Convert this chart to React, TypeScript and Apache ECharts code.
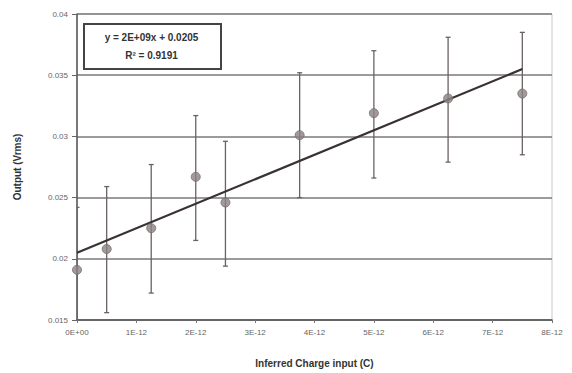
import React, { useEffect, useRef } from "react";
import * as echarts from "echarts";

const chargeInput = [0, 0.5e-12, 1.25e-12, 2e-12, 2.5e-12, 3.75e-12, 5e-12, 6.25e-12, 7.5e-12];
const outputVrms = [0.0191, 0.0208, 0.0225, 0.0267, 0.0246, 0.0301, 0.0319, 0.0331, 0.0335];
const errLow = [0.0140, 0.0156, 0.0172, 0.0215, 0.0194, 0.0250, 0.0266, 0.0279, 0.0285];
const errHigh = [0.0242, 0.0259, 0.0277, 0.0317, 0.0296, 0.0352, 0.0370, 0.0381, 0.0385];
const trendSlope = 2e9;
const trendIntercept = 0.0205;
const trendX = [0, 7.5e-12];
const eqText = "y = 2E+09x + 0.0205";
const r2Text = "R² = 0.9191";

export default function App() {
  const ref = useRef<HTMLDivElement>(null);
  useEffect(() => {
    if (!ref.current) return;
    const chart = echarts.init(ref.current, undefined, { renderer: "svg" });
    const font = "Liberation Sans, Arial, sans-serif";
    const pts = chargeInput.map((x, i) => [x, outputVrms[i]]);
    const bars = chargeInput.map((x, i) => [x, errLow[i], errHigh[i]]);
    const trend = trendX.map((x) => [x, trendSlope * x + trendIntercept]);
    chart.setOption({
      animation: false,
      backgroundColor: "#fff",
      grid: { left: 77, right: 20, top: 14, bottom: 52, show: true, borderColor: "#c8c8c8", borderWidth: 1 },
      xAxis: {
        type: "value",
        min: 0,
        max: 8e-12,
        interval: 1e-12,
        name: "Inferred Charge input (C)",
        nameLocation: "middle",
        nameGap: 38,
        nameTextStyle: { fontFamily: font, fontSize: 10, fontWeight: "bold", color: "#333" },
        axisLine: { lineStyle: { color: "#555", width: 1.5 } },
        axisTick: { inside: false, length: 3, lineStyle: { color: "#777" } },
        axisLabel: {
          fontFamily: font, fontSize: 8, color: "#666", margin: 8,
          formatter: (v: number) => {
            const n = Math.round(v / 1e-12);
            return n === 0 ? "0E+00" : n + "E-12";
          },
        },
        splitLine: { show: false },
      },
      yAxis: {
        type: "value",
        min: 0.015,
        max: 0.04,
        interval: 0.005,
        name: "Output (Vrms)",
        nameLocation: "middle",
        nameGap: 55,
        nameTextStyle: { fontFamily: font, fontSize: 10, fontWeight: "bold", color: "#333" },
        axisLine: { show: true, lineStyle: { color: "#555", width: 1.5 } },
        axisTick: { show: true, length: 5, lineStyle: { color: "#666" } },
        axisLabel: {
          fontFamily: font, fontSize: 8, color: "#666", margin: 9,
          formatter: (v: number) => String(parseFloat(v.toFixed(3))),
        },
        splitLine: { show: true, lineStyle: { color: "#7a7a7a", width: 1.5 } },
      },
      graphic: [
        {
          type: "rect",
          left: 83,
          top: 23,
          shape: { width: 137, height: 45 },
          style: { fill: "#fff", stroke: "#444", lineWidth: 2 },
          z: 100,
        },
        {
          type: "text",
          x: 151.5,
          y: 37,
          style: { text: eqText, fontFamily: font, fontSize: 10, fontWeight: "bold", fill: "#333", textAlign: "center", textVerticalAlign: "middle" },
          z: 101,
        },
        {
          type: "text",
          x: 151.5,
          y: 55,
          style: { text: r2Text, fontFamily: font, fontSize: 10, fontWeight: "bold", fill: "#333", textAlign: "center", textVerticalAlign: "middle" },
          z: 101,
        },
      ],
      series: [
        {
          type: "custom",
          clip: true,
          data: bars,
          renderItem: (params: any, api: any) => {
            const x = api.value(0);
            const lo = api.coord([x, api.value(1)]);
            const hi = api.coord([x, api.value(2)]);
            const c = 2.5;
            const st = { stroke: "#6a6262", lineWidth: 1.3 };
            return {
              type: "group",
              children: [
                { type: "line", shape: { x1: lo[0], y1: lo[1], x2: hi[0], y2: hi[1] }, style: st },
                { type: "line", shape: { x1: lo[0] - c, y1: lo[1], x2: lo[0] + c, y2: lo[1] }, style: st },
                { type: "line", shape: { x1: hi[0] - c, y1: hi[1], x2: hi[0] + c, y2: hi[1] }, style: st },
              ],
            };
          },
          z: 2,
        },
        {
          type: "line",
          data: trend,
          showSymbol: false,
          lineStyle: { color: "#3a3232", width: 2.2 },
          z: 3,
        },
        {
          type: "scatter",
          data: pts,
          symbol: "circle",
          symbolSize: 9,
          itemStyle: { color: "#8c8282", borderColor: "#776e6e", borderWidth: 1 },
          z: 4,
        },
      ],
    });
    return () => chart.dispose();
  }, []);
  return <div ref={ref} style={{ position: "fixed", left: 0, top: 0, width: 572, height: 373 }} />;
}
